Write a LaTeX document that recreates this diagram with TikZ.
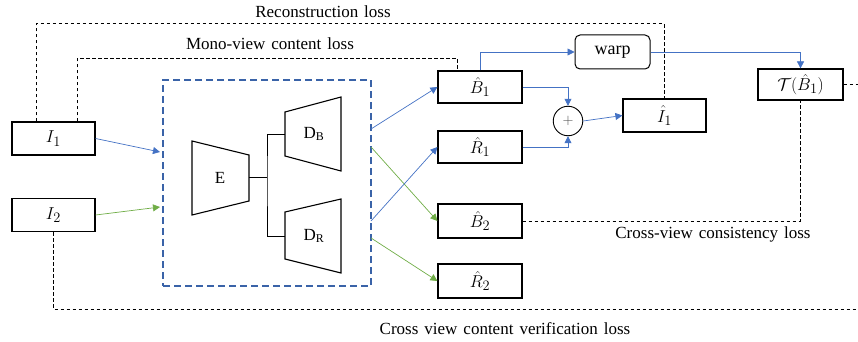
\documentclass[tikz,border=0pt]{standalone}
\usepackage{fontspec}
\setmainfont{Liberation Serif}
\usetikzlibrary{arrows.meta,calc}

\definecolor{flowblue}{HTML}{4472C4}
\definecolor{flowgreen}{HTML}{70AD47}
\definecolor{encblue}{HTML}{3A63A8}

\newcommand{\losstext}{\fontsize{17}{20}\selectfont\spaceskip=6pt plus 1pt\relax}

\begin{document}
\begin{tikzpicture}[x=1pt,y=-1pt,
  box/.style={draw, line width=1.2pt, minimum width=83pt, minimum height=33pt,
    inner sep=0pt, font=\fontsize{19}{22}\selectfont},
  rbox/.style={box, minimum width=84pt},
  trap/.style={draw, line width=1.1pt, line join=miter},
  joint/.style={draw, line width=0.9pt},
  encbox/.style={draw=encblue, line width=1.2pt, dash pattern=on 7pt off 4pt,
    minimum width=208pt, minimum height=206pt, inner sep=0pt},
  tipshape/.style={-{Triangle[length=7pt,width=7pt]}},
  bluearr/.style={draw=flowblue, line width=0.7pt, tipshape},
  greenarr/.style={draw=flowgreen, line width=0.7pt, tipshape},
  lossline/.style={draw, line width=0.8pt, dash pattern=on 3.5pt off 2.5pt},
  losslabel/.style={font=\losstext, inner sep=0pt},
  innerlabel/.style={font=\fontsize{17}{20}\selectfont, inner sep=0pt}]

\useasboundingbox (0,0) rectangle (858,342);

% inputs
\node[box] (I1) at (53.5,138.5) {$I_1$};
\node[box] (I2) at (53.5,215) {$I_2$};

% encoder / decoder block
\node[encbox] (enc) at (267,183) {};
\draw[trap] (192,141) -- (249,155) -- (249,201) -- (192,215) -- cycle;
\node[innerlabel] (E) at (220,178) {E};
\draw[trap] (285,112) -- (341,97) -- (341,171) -- (285,156) -- cycle;
\node[innerlabel] (DB) at (314,134) {D\textsubscript{B}};
\draw[trap] (285,212) -- (341,199) -- (341,273) -- (285,259) -- cycle;
\node[innerlabel] (DR) at (314,236) {D\textsubscript{R}};

\coordinate (eR) at (249,177);
\coordinate (split) at (267,177);
\coordinate (dbL) at (285,134);
\coordinate (drL) at (285,236);
\draw[joint] (eR) -- (split);
\draw[joint] (dbL) -| (split) |- (drL);

% entry and exit points on the block border
\coordinate (in1) at (160,152);
\coordinate (in2) at (160,207);
\coordinate (o1) at (371,129);
\coordinate (o2) at (371,147);
\coordinate (o3) at (371,221);
\coordinate (o4) at (371,238);

% outputs
\node[rbox, minimum height=32pt] (B1) at (480,87) {$\hat{B}_1$};
\node[rbox, minimum height=32pt] (R1) at (480,147) {$\hat{R}_1$};
\node[rbox, minimum height=34pt] (B2) at (480,221) {$\hat{B}_2$};
\node[rbox, minimum height=34pt] (R2) at (480,281) {$\hat{R}_2$};

\node[box, rounded corners=5pt, minimum width=75pt, minimum height=34pt, line width=1pt,
  font=\fontsize{18}{21}\selectfont] (warp) at (612.5,52) {warp};
\node[circle, draw, line width=0.9pt, minimum size=29.5pt, inner sep=0pt,
  font=\fontsize{15}{17}\selectfont, text=black!70] (plus) at (568,121) {$+$};
\node[box] (I1hat) at (664.5,115.5) {$\hat{I}_1$};
\node[box, minimum width=85pt, minimum height=31pt] (T) at (800.5,84.5) {$\mathcal{T}(\hat{B}_1)$};

% data flow
\draw[bluearr] (I1.east) -- (in1);
\draw[greenarr] (I2.east) -- (in2);
\draw[bluearr] (o1) -- (B1.west);
\draw[greenarr] (o2) -- (B2.west);
\draw[bluearr] (o3) -- (R1.west);
\draw[greenarr] (o4) -- (R2.west);
\draw[bluearr] (B1.north) |- (warp.west);
\draw[bluearr] (warp.east) -| (T.north);
\draw[bluearr] (B1.east) -| (plus.north);
\draw[bluearr] (R1.east) -| (plus.south);
\draw[bluearr] (plus.east) -- (I1hat.west);

% losses
\coordinate (tend) at (858,84.5);
\coordinate (vend) at (858,309);
\draw[lossline] ($(I1.north west)+(25,0)$) |- ($(I1hat.north)+(0,-74.5)$) -- (I1hat.north);
\draw[lossline] ($(I1.north west)+(66,0)$) |- ($(B1.north west)+(20,-12)$) -- ($(B1.north west)+(20,0)$);
\draw[lossline] (B2.east) -| (T.south);
\draw[lossline] (T.east) -- (tend);
\draw[lossline] ($(I2.south west)+(42,0)$) |- (vend);

\node[losslabel] (lrec) at (323,12) {Reconstruction loss};
\node[losslabel] (lmono) at (270,44) {Mono-view content loss};
\node[losslabel] (lcons) at (713,234) {Cross-view consistency loss};
\node[losslabel] (lver) at (505,329) {Cross view content verification loss};

\end{tikzpicture}
\end{document}
